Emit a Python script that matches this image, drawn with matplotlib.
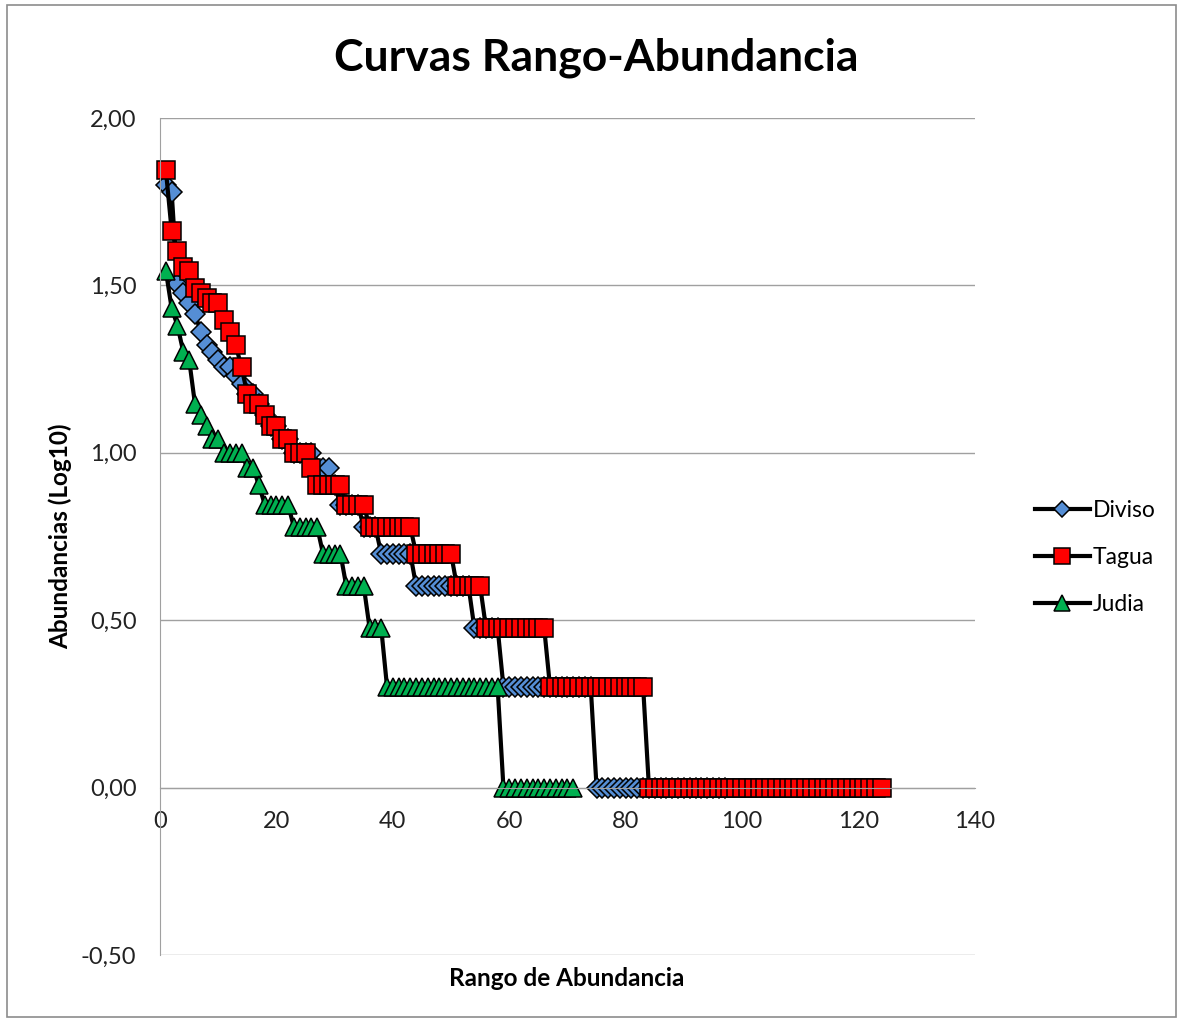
import numpy as np
import matplotlib
matplotlib.use("Agg")
import matplotlib.pyplot as plt
from matplotlib.patches import Rectangle

plt.rcParams['font.family'] = ['Lato', 'DejaVu Sans']

# abundancia (numero de individuos) por especie, ordenada de mayor a menor
diviso = [63, 60, 32, 30, 28, 26, 23, 21, 20, 19,
          18, 18, 17, 16, 15, 15, 14, 13, 12, 12,
          11, 11, 10, 10, 10, 10, 9, 9, 9, 8,
          7, 7, 7, 7, 6, 6, 6] + [5] * 6 + [4] * 10 + [3] * 5 + [2] * 16 + [1] * 23
tagua = [70, 46, 40, 36, 35, 31, 30, 29, 28, 28,
         25, 23, 21, 18, 15, 14, 14, 13, 12, 12,
         11, 11, 10, 10, 10, 9] + [8] * 5 + [7] * 4 + [6] * 8 + [5] * 7 + [4] * 5 + [3] * 11 + [2] * 17 + [1] * 41
judia = [35, 27, 24, 20, 19, 14, 13, 12, 11, 11] + [10] * 4 + [9] * 2 + [8] + [7] * 5 + [6] * 5 + [5] * 4 + [4] * 4 + [3] * 3 + [2] * 20 + [1] * 13

series = [("Diviso", diviso, "D", "#558ED5", 10),
          ("Tagua", tagua, "s", "#FF0000", 13),
          ("Judia", judia, "^", "#00B050", 13)]

yticks = [-0.5, 0.0, 0.5, 1.0, 1.5, 2.0]
xticks = [0, 20, 40, 60, 80, 100, 120, 140]

fig = plt.figure(figsize=(11.81, 10.21), dpi=100)
ax = fig.add_axes([0.1355, 0.0646, 0.690, 0.8198])

for nombre, datos, marca, color, ms in series:
    rango = np.arange(1, len(datos) + 1)
    ax.plot(rango, np.log10(datos), color="black", lw=3, marker=marca,
            markersize=ms, markerfacecolor=color, markeredgecolor="black",
            markeredgewidth=1.1, label=nombre, clip_on=False)

ax.set_xlim(0, 140)
ax.set_ylim(-0.5, 2.0)
ax.set_xticks(xticks)
ax.set_yticks(yticks)
ax.set_yticklabels([f"{v:.2f}".replace(".", ",") for v in yticks])
ax.yaxis.grid(True, color="#A0A0A0", lw=1)
ax.set_axisbelow(True)
ax.spines['top'].set_visible(False)
ax.spines['right'].set_visible(False)
ax.spines['bottom'].set_position(('data', 0))
ax.spines['bottom'].set_color("#A0A0A0")
ax.spines['left'].set_color("#A0A0A0")
ax.tick_params(axis='both', length=0, labelsize=17, colors="#222222")
ax.tick_params(axis='y', pad=17)
ax.tick_params(axis='x', pad=17)

ax.set_ylabel("Abundancias (Log10)", fontsize=17.5, fontweight="bold", labelpad=6)
fig.text(0.48, 0.042, "Rango de Abundancia", fontsize=17.5, fontweight="bold", ha="center", va="center")
fig.text(0.505, 0.943, "Curvas Rango-Abundancia", fontsize=32, fontweight="bold", ha="center", va="center")

leg = ax.legend(loc="center left", bbox_to_anchor=(1.048, 0.475), frameon=False,
                fontsize=16.5, handlelength=2.4, labelspacing=1.15, handletextpad=0.15,
                markerscale=0.85)

fig.patches.append(Rectangle((0.006, 0.004), 0.99, 0.991, transform=fig.transFigure,
                             fill=False, edgecolor="#8C8C8C", lw=1.2))

fig.savefig("out.png", dpi=100)
